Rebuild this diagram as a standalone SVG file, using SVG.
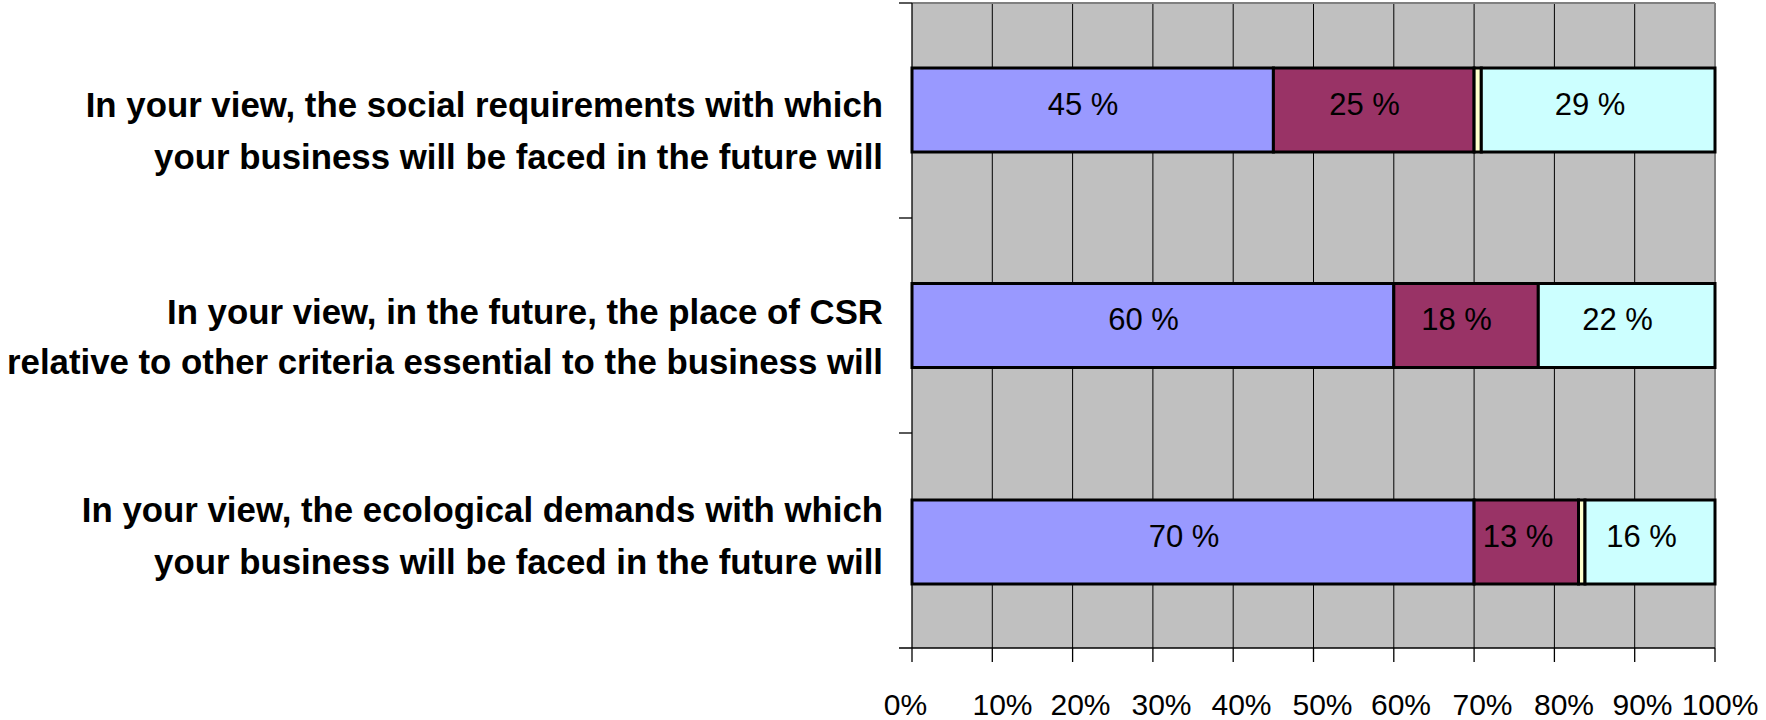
<svg xmlns="http://www.w3.org/2000/svg" width="1766" height="720" viewBox="0 0 1766 720">
<style>
.cat{font-family:"Liberation Sans",Arial,sans-serif;font-weight:bold;font-size:34.8px;fill:#000;text-anchor:end}
.val{font-family:"Liberation Sans",Arial,sans-serif;font-size:31px;fill:#000;text-anchor:middle}
.tick{font-family:"Liberation Sans",Arial,sans-serif;font-size:30px;fill:#000;text-anchor:middle}
.seg{stroke:#000;stroke-width:3}
.grid{stroke:#000;stroke-width:1}
.ax{stroke:#000;stroke-width:1.3}
.s1{fill:#9999FF}.s2{fill:#993366}.s3{fill:#FFFFCC}.s4{fill:#CCFFFF}
</style>
<rect width="1766" height="720" fill="#FFFFFF"/>
<g id="plot">
<rect x="912" y="3" width="803" height="645" fill="#C0C0C0"/>
<g class="grid">
<line x1="992.3" y1="3" x2="992.3" y2="648"/>
<line x1="1072.6" y1="3" x2="1072.6" y2="648"/>
<line x1="1152.9" y1="3" x2="1152.9" y2="648"/>
<line x1="1233.2" y1="3" x2="1233.2" y2="648"/>
<line x1="1313.5" y1="3" x2="1313.5" y2="648"/>
<line x1="1393.8" y1="3" x2="1393.8" y2="648"/>
<line x1="1474.1" y1="3" x2="1474.1" y2="648"/>
<line x1="1554.4" y1="3" x2="1554.4" y2="648"/>
<line x1="1634.7" y1="3" x2="1634.7" y2="648"/>
</g>
<line x1="912" y1="3" x2="1715" y2="3" stroke="#808080" stroke-width="2"/>
<line x1="1715" y1="3" x2="1715" y2="648" stroke="#808080" stroke-width="2"/>
</g>
<g id="bar1">
<rect class="seg s1" x="912" y="68" width="361.4" height="84"/>
<rect class="seg s2" x="1273.4" y="68" width="200.7" height="84"/>
<rect class="seg s3" x="1474.1" y="68" width="7.2" height="84"/>
<rect class="seg s4" x="1481.3" y="68" width="233.7" height="84"/>
<text class="val" x="1083" y="115">45 %</text>
<text class="val" x="1364.5" y="115">25 %</text>
<text class="val" x="1590" y="115">29 %</text>
</g>
<g id="bar2">
<rect class="seg s1" x="912" y="283.5" width="481.8" height="84"/>
<rect class="seg s2" x="1393.8" y="283.5" width="144.5" height="84"/>
<rect class="seg s4" x="1538.3" y="283.5" width="176.7" height="84"/>
<text class="val" x="1143.5" y="330">60 %</text>
<text class="val" x="1456.5" y="330">18 %</text>
<text class="val" x="1617.5" y="330">22 %</text>
</g>
<g id="bar3">
<rect class="seg s1" x="912" y="500" width="562.1" height="84"/>
<rect class="seg s2" x="1474.1" y="500" width="104.4" height="84"/>
<rect class="seg s3" x="1578.5" y="500" width="6.5" height="84"/>
<rect class="seg s4" x="1585" y="500" width="130" height="84"/>
<text class="val" x="1184" y="546.5">70 %</text>
<text class="val" x="1518" y="546.5">13 %</text>
<text class="val" x="1641.5" y="546.5">16 %</text>
</g>
<g id="axes" class="ax">
<line x1="912" y1="3" x2="912" y2="662"/>
<line x1="899" y1="648" x2="1715" y2="648"/>
<line x1="899" y1="3" x2="912" y2="3"/>
<line x1="899" y1="218" x2="912" y2="218"/>
<line x1="899" y1="433" x2="912" y2="433"/>
<line x1="992.3" y1="648" x2="992.3" y2="662"/>
<line x1="1072.6" y1="648" x2="1072.6" y2="662"/>
<line x1="1152.9" y1="648" x2="1152.9" y2="662"/>
<line x1="1233.2" y1="648" x2="1233.2" y2="662"/>
<line x1="1313.5" y1="648" x2="1313.5" y2="662"/>
<line x1="1393.8" y1="648" x2="1393.8" y2="662"/>
<line x1="1474.1" y1="648" x2="1474.1" y2="662"/>
<line x1="1554.4" y1="648" x2="1554.4" y2="662"/>
<line x1="1634.7" y1="648" x2="1634.7" y2="662"/>
<line x1="1715" y1="648" x2="1715" y2="662"/>
</g>
<g id="xlabels">
<text class="tick" x="905.5" y="715">0%</text>
<text class="tick" x="1002.5" y="715">10%</text>
<text class="tick" x="1080.5" y="715">20%</text>
<text class="tick" x="1161.5" y="715">30%</text>
<text class="tick" x="1241.5" y="715">40%</text>
<text class="tick" x="1322.5" y="715">50%</text>
<text class="tick" x="1401" y="715">60%</text>
<text class="tick" x="1482.5" y="715">70%</text>
<text class="tick" x="1564" y="715">80%</text>
<text class="tick" x="1642.5" y="715">90%</text>
<text class="tick" x="1720" y="715">100%</text>
</g>
<g id="cat1">
<text class="cat" x="883" y="117">In your view, the social requirements with which</text>
<text class="cat" x="883" y="169">your business will be faced in the future will</text>
</g>
<g id="cat2">
<text class="cat" x="883" y="324">In your view, in the future, the place of CSR</text>
<text class="cat" x="883" y="374">relative to other criteria essential to the business will</text>
</g>
<g id="cat3">
<text class="cat" x="883" y="522">In your view, the ecological demands with which</text>
<text class="cat" x="883" y="574">your business will be faced in the future will</text>
</g>
</svg>
